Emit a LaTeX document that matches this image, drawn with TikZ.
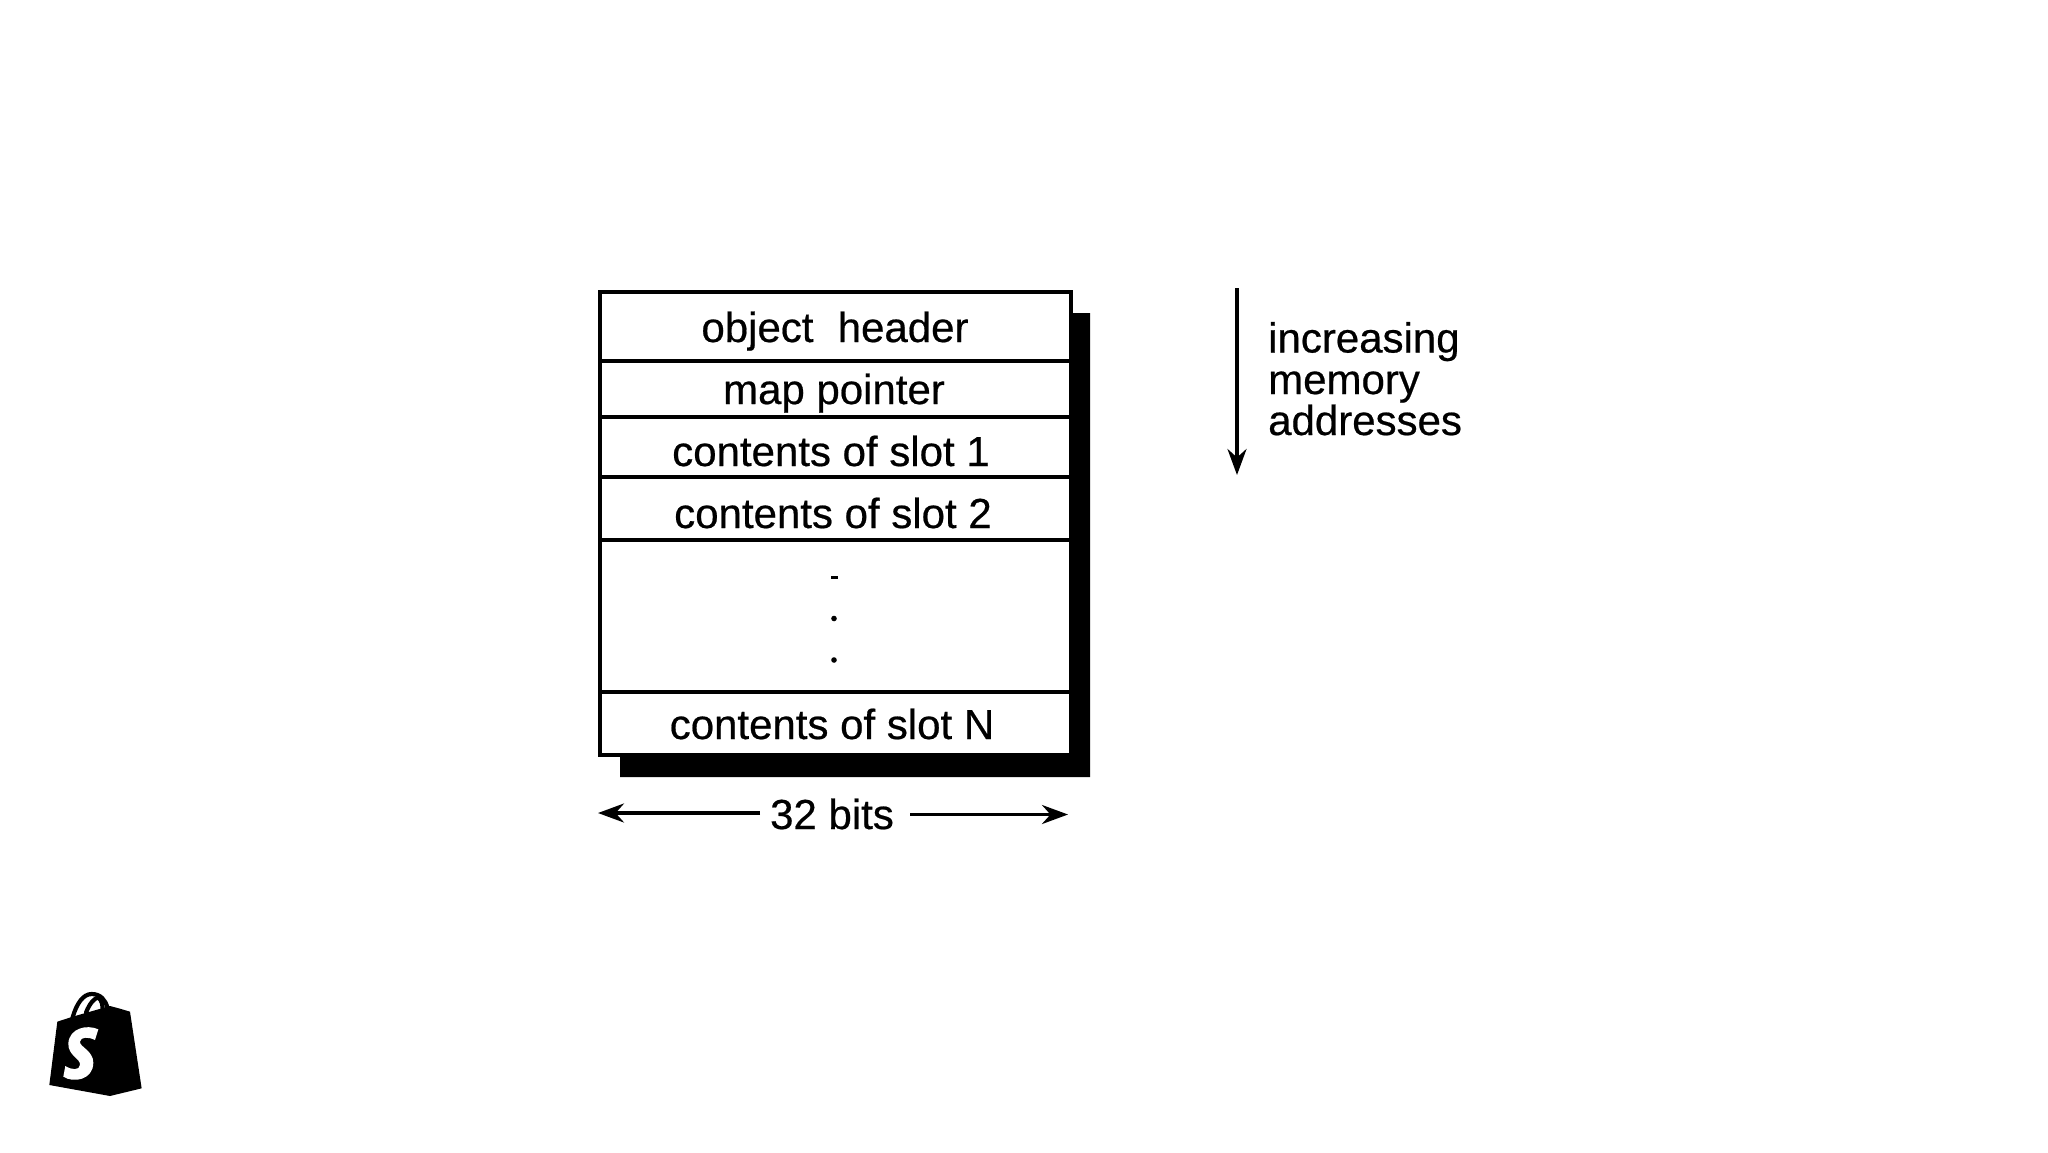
\documentclass[tikz,border=0pt]{standalone}
\usepackage{fontspec}
\setmainfont[RawFeature={embolden=0.5}]{Liberation Sans}
\usetikzlibrary{arrows.meta}
\tikzset{
  rowbox/.style={draw=black,line width=3.6pt,fill=white,rectangle,inner sep=0pt,anchor=north west,minimum width=471pt},
  lbl/.style={inner sep=0pt,anchor=base,font=\fontsize{42}{41.5}\selectfont,text=black},
  side/.style={inner sep=0pt,anchor=base west,font=\fontsize{42}{41.5}\selectfont,text=black},
  arrowline/.style={draw=black,line width=3.4pt,-{Stealth[length=26pt,width=19pt]}},
  shade/.style={fill=black,draw=none},
  handle/.style={draw=black,line width=4.2pt,line cap=round}
}
\begin{document}
\begin{tikzpicture}[x=1pt,y=-1pt]
\useasboundingbox (0,0) rectangle (2048,1152);
% drop shadow
\fill[shade] (1067,313) -- (1090,313) -- (1090,777) -- (620,777) -- (620,753) -- (1067,753) -- cycle;
% rows
\node[rowbox,minimum height=69pt] (r1) at (598,290) {};
\node[rowbox,minimum height=56pt] (r2) at (598,359) {};
\node[rowbox,minimum height=60pt] (r3) at (598,415) {};
\node[rowbox,minimum height=63pt] (r4) at (598,475) {};
\node[rowbox,minimum height=152pt] (r5) at (598,538) {};
\node[rowbox,minimum height=63pt] (r6) at (598,690) {};
% row texts
\node[lbl] (t1) at (835,342) {object\hspace{0.3em} header};
\node[lbl] (t2) at (834,404) {map pointer};
\node[lbl] (t3) at (831,466) {contents of slot 1};
\node[lbl] (t4) at (833,528) {contents of slot 2};
\node[lbl] (t6) at (832,739) {contents of slot N};
% dots
\fill[black] (830.5,576) rectangle (837.5,578.5);
\fill[black] (834,618.5) circle (2.8pt);
\fill[black] (834,660) circle (2.8pt);
% width arrows
\node[lbl] (bits) at (832,829) {32 bits};
\coordinate (ls) at (760,813);
\coordinate (le) at (598,813);
\coordinate (rs) at (910,814.5);
\coordinate (re) at (1068,814.5);
\draw[arrowline] (ls) -- (le);
\draw[arrowline] (rs) -- (re);
% address arrow
\coordinate (as) at (1237,288);
\coordinate (ae) at (1237,475);
\draw[arrowline] (as) -- (ae);
\node[side] (a1) at (1268,352.5) {increasing};
\node[side] (a2) at (1268,394) {memory};
\node[side] (a3) at (1268,435) {addresses};
% logo
\begin{scope}[shift={(30,980)},x=0.3333pt,y=-0.3333pt]
\fill[black] (82,125) -- (128,110) -- (240,78) -- (270,86) -- (300,95) -- (335,325) -- (240,348) -- (58,315) -- cycle;
\draw[handle] (128,112) .. controls (140,70) and (160,42) .. (185,42) .. controls (212,42) and (226,60) .. (232,82);
\draw[handle] (168,98) .. controls (178,72) and (192,55) .. (205,52) .. controls (216,62) and (218,75) .. (218,90);
\fill[white] (205,148) .. controls (170,132) and (118,145) .. (115,190) .. controls (114,228) and (152,235) .. (150,255) .. controls (148,272) and (125,270) .. (106,258) -- (100,290) .. controls (130,310) and (190,300) .. (190,248) .. controls (190,212) and (148,200) .. (150,185) .. controls (152,170) and (175,170) .. (195,180) -- cycle;
\end{scope}
\end{tikzpicture}
\end{document}
